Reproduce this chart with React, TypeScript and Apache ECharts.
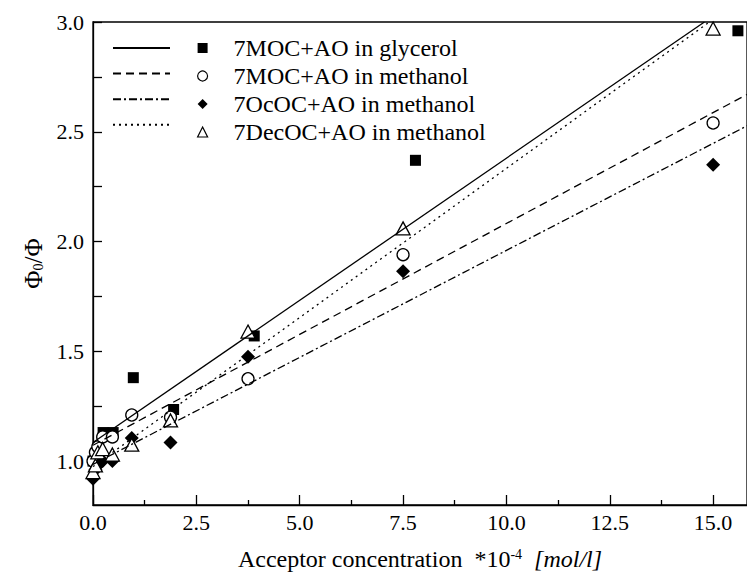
import React, { useEffect, useRef } from "react";
import * as echarts from "echarts";

// ---- data ----
const scatterNames = [
  "7MOC+AO in glycerol",
  "7MOC+AO in methanol",
  "7OcOC+AO in methanol",
  "7DecOC+AO in methanol",
];
const fitNames = ["fit glycerol MOC", "fit methanol MOC", "fit methanol OcOC", "fit methanol DecOC"];

const mocGlycerol: number[][] = [
  [0, 1.0], [0.061, 0.99], [0.122, 1.02], [0.244, 1.13], [0.4875, 1.13],
  [0.975, 1.38], [1.95, 1.235], [3.9, 1.57], [7.8, 2.37], [15.6, 2.96],
];
const mocMethanol: number[][] = [
  [0, 1.0], [0.0586, 1.04], [0.117, 1.065], [0.234, 1.11], [0.469, 1.11],
  [0.9375, 1.21], [1.875, 1.2], [3.75, 1.375], [7.5, 1.94], [15, 2.54],
];
const ococMethanol: number[][] = [
  [0, 0.92], [0.0586, 0.96], [0.117, 0.98], [0.234, 1.0], [0.469, 1.0],
  [0.9375, 1.105], [1.875, 1.085], [3.75, 1.475], [7.5, 1.865], [15, 2.35],
];
const decocMethanol: number[][] = [
  [0, 0.95], [0.0586, 0.98], [0.117, 1.04], [0.234, 1.055], [0.469, 1.03],
  [0.9375, 1.075], [1.875, 1.185], [3.75, 1.59], [7.5, 2.06], [15, 2.97],
];

// fitted lines (end points)
const fitMocGlycerol: number[][] = [[0, 1.085], [14.79, 3.0]];
const fitMocMethanol: number[][] = [[0, 1.072], [15.82, 2.67]];
const fitOcocMethanol: number[][] = [[0, 0.985], [15.82, 2.527]];
const fitDecocMethanol: number[][] = [[0, 0.975], [14.91, 3.0]];

const xMin = 0;
const xMax = 15.82;
const yMin = 0.8;
const yMax = 3.0;
const xLabelValues = [0, 2.5, 5, 7.5, 10, 12.5, 15];
const xMinorValues = [1.25, 3.75, 6.25, 8.75, 11.25, 13.75];
const yLabelValues = [1.0, 1.5, 2.0, 2.5, 3.0];
const yTickValues = [1.0, 1.25, 1.5, 1.75, 2.0, 2.25, 2.5, 2.75, 3.0];

const FONT = "'Liberation Serif', 'Times New Roman', serif";

export default function App() {
  const ref = useRef<HTMLDivElement>(null);
  useEffect(() => {
    if (!ref.current) return;
    const chart = echarts.init(ref.current, undefined, { renderer: "svg" });
    const black = "#000";
    const option: any = {
      animation: false,
      backgroundColor: "#fff",
      textStyle: { fontFamily: FONT, color: black },
      grid: {
        left: 93, right: -1, top: 22, bottom: 72,
        show: true, borderColor: black, borderWidth: 1.3, backgroundColor: "transparent",
      },
      legend: [
        {
          data: fitNames, orient: "vertical", left: 112, top: 36, padding: 0,
          itemWidth: 57, itemHeight: 24, itemGap: 4, selectedMode: false,
          formatter: () => "",
          itemStyle: { color: "transparent", borderColor: "transparent", borderWidth: 0, opacity: 0 },
          textStyle: { fontSize: 1 },
        },
        {
          data: scatterNames, orient: "vertical", left: 197, top: 36, padding: 0,
          itemWidth: 10, itemHeight: 10, itemGap: 4, selectedMode: false,
          itemStyle: { borderWidth: 1.2 },
          textStyle: { fontFamily: FONT, fontSize: 24, lineHeight: 24, color: black, padding: [0, 0, 0, 21] },
        },
      ],
      xAxis: [
        {
          type: "value", min: xMin, max: xMax, interval: 2.5,
          position: "bottom",
          name: "{t|Acceptor concentration  *10}{s|-4}{t|  }{i|[mol/l]}",
          nameLocation: "middle", nameGap: 42,
          nameTextStyle: {
            color: black,
            rich: {
              t: { fontFamily: FONT, fontSize: 24, color: black },
              s: { fontFamily: FONT, fontSize: 14, color: black, verticalAlign: "top" },
              i: { fontFamily: FONT, fontSize: 24, fontStyle: "italic", color: black },
            },
          },
          axisLine: { show: true, lineStyle: { color: black, width: 1.3 } },
          axisTick: { show: true, inside: true, length: 10, customValues: xLabelValues, lineStyle: { color: black, width: 1.3 } },
          axisLabel: {
            customValues: xLabelValues, margin: 6, fontFamily: FONT, fontSize: 22, color: black,
            formatter: (v: number) => v.toFixed(1),
          },
          splitLine: { show: false },
        },
        {
          type: "value", min: xMin, max: xMax, interval: 2.5,
          position: "top", offset: -483,
          axisLine: { show: false },
          axisTick: { show: true, inside: false, length: 5, customValues: xMinorValues, lineStyle: { color: black, width: 1.3 } },
          axisLabel: { show: false },
          splitLine: { show: false },
        },
      ],
      yAxis: {
        type: "value", min: yMin, max: yMax,
        name: "{t|Φ}{s|0}{t|/Φ}",
        nameLocation: "middle", nameGap: 47, nameRotate: 90,
        nameTextStyle: {
          color: black,
          rich: {
            t: { fontFamily: FONT, fontSize: 25, color: black },
            s: { fontFamily: FONT, fontSize: 14, color: black, verticalAlign: "bottom" },
          },
        },
        axisLine: { show: true, lineStyle: { color: black, width: 1.3 } },
        axisTick: { show: true, inside: true, length: 9, customValues: yTickValues, lineStyle: { color: black, width: 1.3 } },
        axisLabel: {
          customValues: yLabelValues, margin: 9, fontFamily: FONT, fontSize: 22, color: black,
          formatter: (v: number) => v.toFixed(1),
        },
        splitLine: { show: false },
      },
      series: [
        { type: "line", name: fitNames[0], data: fitMocGlycerol, symbol: "none", lineStyle: { color: black, width: 1.3, type: "solid" }, itemStyle: { color: black } },
        { type: "line", name: fitNames[1], data: fitMocMethanol, symbol: "none", lineStyle: { color: black, width: 1.3, type: [8, 5] }, itemStyle: { color: black } },
        { type: "line", name: fitNames[2], data: fitOcocMethanol, symbol: "none", lineStyle: { color: black, width: 1.3, type: [8, 3, 2, 3] }, itemStyle: { color: black } },
        { type: "line", name: fitNames[3], data: fitDecocMethanol, symbol: "none", lineStyle: { color: black, width: 1.3, type: [2, 4] }, itemStyle: { color: black } },
        { type: "scatter", name: scatterNames[0], data: mocGlycerol, symbol: "rect", symbolSize: 11, itemStyle: { color: black, opacity: 1 } },
        { type: "scatter", name: scatterNames[1], data: mocMethanol, symbol: "circle", symbolSize: 12, itemStyle: { color: "#fff", borderColor: black, borderWidth: 1.3, opacity: 1 } },
        { type: "scatter", name: scatterNames[2], data: ococMethanol, symbol: "diamond", symbolSize: 14, itemStyle: { color: black, opacity: 1 } },
        { type: "scatter", name: scatterNames[3], data: decocMethanol, symbol: "triangle", symbolSize: [14, 13], itemStyle: { color: "#fff", borderColor: black, borderWidth: 1.3, opacity: 1 } },
      ],
    };
    chart.setOption(option);
    return () => chart.dispose();
  }, []);
  return <div ref={ref} style={{ position: "fixed", left: 0, top: 0, width: 747, height: 577 }} />;
}
